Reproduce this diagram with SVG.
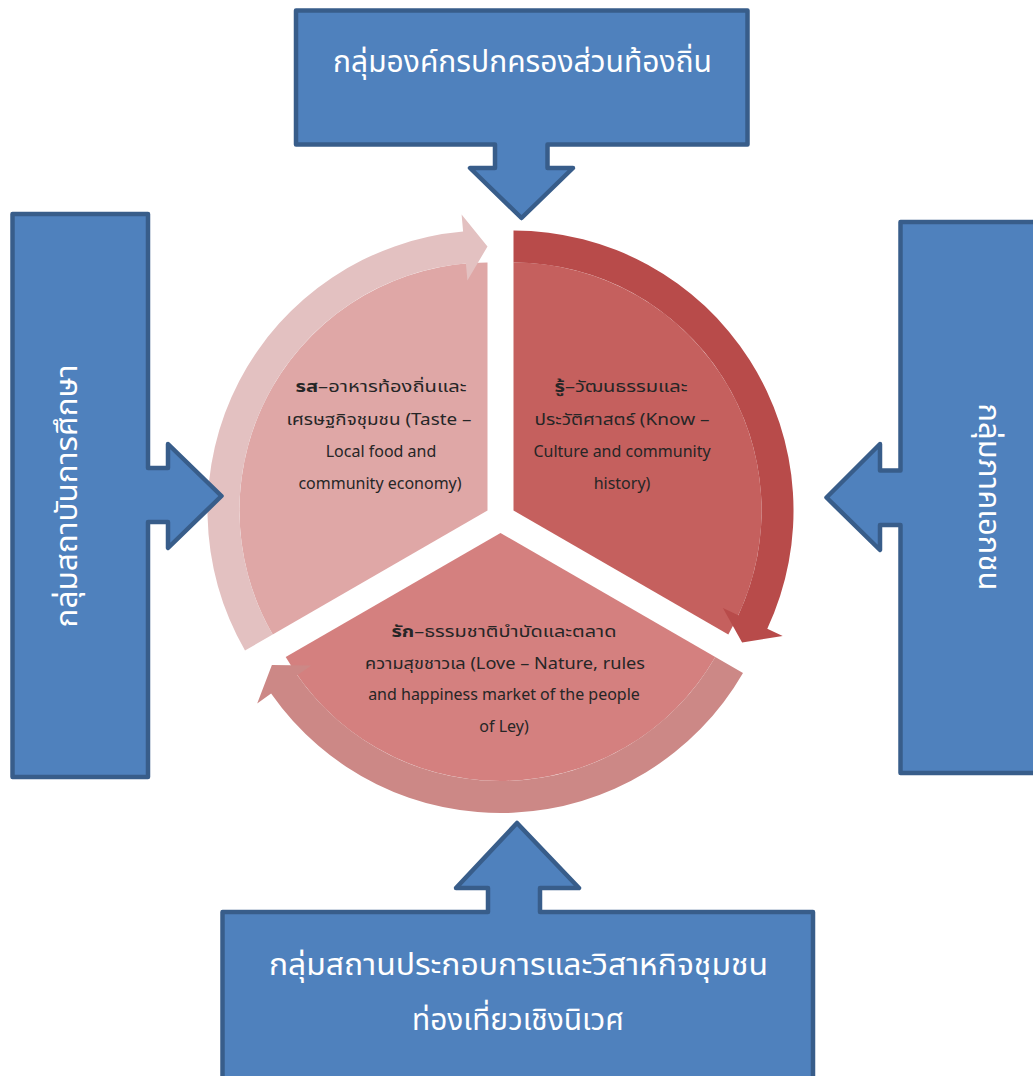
<svg xmlns="http://www.w3.org/2000/svg" width="1033" height="1076" viewBox="0 0 1033 1076">
  <style>
    .callout { fill: #4F81BD; stroke: #385D8A; stroke-width: 4.5; stroke-linejoin: round; }
    .big { font-family: 'Noto Sans Thai', 'Noto Sans', 'Noto Sans CJK SC', sans-serif; font-size: 30px; fill: #FFFFFF; text-anchor: middle; }
    .small { font-family: 'Noto Sans Thai', 'Noto Sans', 'Noto Sans CJK SC', sans-serif; font-size: 16px; fill: #262626; text-anchor: middle; }
    .b { font-weight: bold; }
  </style>
  <rect width="1033" height="1076" fill="#FFFFFF"/>

  <g id="sector-taste">
    <path d="M487.5,510.5 L487.5,262.5 A248,248 0 0 0 272.7,634.5 Z" fill="#DFA7A6"/>
  </g>
  <g id="sector-know">
    <path d="M513.5,510.5 L513.5,262.5 A248,248 0 0 1 728.3,634.5 Z" fill="#C5605E"/>
  </g>
  <g id="sector-love">
    <path d="M500.5,533 L715.3,657 A248,248 0 0 1 285.7,657 Z" fill="#D4807F"/>
  </g>

  <g id="connectors">
    <path id="arrow-taste" d="M272.7,634.5 L245,650.5 A280,280 0 0 1 463.1,231.6 L461.6,214.6 L487.5,246.5 L467.4,280.4 L465.9,263.4 A248,248 0 0 0 272.7,634.5 Z" fill="#E3C1C1"/>
    <path id="arrow-know" d="M513.5,262.5 L513.5,230.5 A280,280 0 0 1 767.3,628.8 L782.7,636 L742.1,642.5 L722.9,608.1 L738.3,615.3 A248,248 0 0 0 513.5,262.5 Z" fill="#B84B4A"/>
    <path id="arrow-love" d="M715.3,657 L743,673 A280,280 0 0 1 271.1,693.6 L257.2,703.4 L271.9,665 L311.3,665.5 L297.3,675.3 A248,248 0 0 0 715.3,657 Z" fill="#CC8886"/>
  </g>

  <g id="text-taste">
    <text class="small" x="381" y="392" textLength="171" lengthAdjust="spacingAndGlyphs"><tspan class="b">รส</tspan>–อาหารท้องถิ่นและ</text>
    <text class="small" x="379" y="425" textLength="185" lengthAdjust="spacingAndGlyphs">เศรษฐกิจชุมชน (Taste –</text>
    <text class="small" x="381" y="457">Local food and</text>
    <text class="small" x="380" y="489">community economy)</text>
  </g>
  <g id="text-know">
    <text class="small" x="621" y="392" textLength="133" lengthAdjust="spacingAndGlyphs"><tspan class="b">รู้</tspan>–วัฒนธรรมและ</text>
    <text class="small" x="622" y="425" textLength="175" lengthAdjust="spacingAndGlyphs">ประวัติศาสตร์ (Know –</text>
    <text class="small" x="622" y="457">Culture and community</text>
    <text class="small" x="622" y="489">history)</text>
  </g>
  <g id="text-love">
    <text class="small" x="504" y="637" textLength="225" lengthAdjust="spacingAndGlyphs"><tspan class="b">รัก</tspan>–ธรรมชาติบำบัดและตลาด</text>
    <text class="small" x="505" y="669" textLength="280" lengthAdjust="spacingAndGlyphs">ความสุขชาวเล (Love – Nature, rules</text>
    <text class="small" x="504" y="700">and happiness market of the people</text>
    <text class="small" x="504" y="732">of Ley)</text>
  </g>

  <g id="node-local-gov">
    <path class="callout" d="M296,10.5 H747.5 V144.5 H547.5 V168 H573 L521.5,218 L470,168 H495 V144.5 H296 Z"/>
    <text class="big" x="522.5" y="72" textLength="379" lengthAdjust="spacingAndGlyphs">กลุ่มองค์กรปกครองส่วนท้องถิ่น</text>
  </g>
  <g id="node-education">
    <path class="callout" d="M12.5,214 H148 V468 H168 V444 L221.5,496 L168,548 V522 H148 V777 H12.5 Z"/>
    <text class="big" transform="translate(77,496) rotate(-90)" x="0" y="0" textLength="263" lengthAdjust="spacingAndGlyphs">กลุ่มสถาบันการศึกษา</text>
  </g>
  <g id="node-private">
    <path class="callout" d="M1040,222 H900.5 V470.5 H880 V444 L826.5,497.5 L880,550 V525 H900.5 V773 H1040"/>
    <text class="big" transform="translate(979,497) rotate(90)" x="0" y="0" textLength="187" lengthAdjust="spacingAndGlyphs">กลุ่มภาคเอกชน</text>
  </g>
  <g id="node-enterprise">
    <path class="callout" d="M222.5,1085 V912 H488 V888 H456 L517,823 L579,888 H540 V912 H813 V1085"/>
    <text class="big" x="518.5" y="975" textLength="499" lengthAdjust="spacingAndGlyphs">กลุ่มสถานประกอบการและวิสาหกิจชุมชน</text>
    <text class="big" x="518" y="1030" textLength="212" lengthAdjust="spacingAndGlyphs">ท่องเที่ยวเชิงนิเวศ</text>
  </g>
</svg>
